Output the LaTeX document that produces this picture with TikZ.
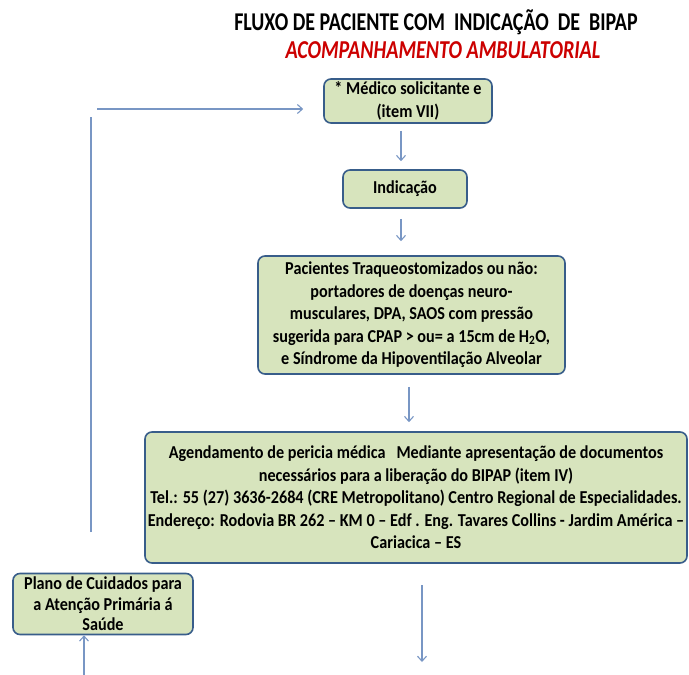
\documentclass[tikz,border=0pt]{standalone}
\usepackage{fontspec}
\setmainfont{Carlito}
\newfontfamily\corpo{Carlito}[FakeStretch=0.89,Ligatures=TeX]
\newfontfamily\titulo{Carlito}[FakeStretch=0.78,Ligatures=TeX]
\usepackage{tikz}
\usetikzlibrary{calc,arrows.meta}
\definecolor{boxfill}{RGB}{215,228,189}
\definecolor{boxline}{RGB}{56,93,138}
\definecolor{flowblue}{RGB}{120,150,196}
\definecolor{titlered}{RGB}{204,0,0}

\begin{document}
\begin{tikzpicture}[x=1pt,y=-1pt,
    etapa/.style={draw=boxline,line width=1.6pt,fill=boxfill,rounded corners=7pt,
      align=center,inner sep=2pt,font=\corpo\fontsize{18.2}{22.5}\selectfont\bfseries},
    fluxo/.style={-{Straight Barb[length=5pt,width=9pt]},draw=flowblue,line width=1.1pt}]
          \useasboundingbox (0,0) rectangle (689,675);
          % titulo
          \node[font=\titulo\fontsize{25.6}{28}\selectfont\bfseries] (tit) at (436,22)
            {FLUXO DE PACIENTE COM~ INDICAÇÃO~ DE~ BIPAP};
          \node[font=\titulo\fontsize{25.8}{28}\selectfont\bfseries\itshape,text=titlered] (sub) at (443,50)
            {ACOMPANHAMENTO AMBULATORIAL};
          % caixas
          \node[etapa,minimum width=168pt,minimum height=44pt] (med) at (408,101)
            {* Médico solicitante e\\(item VII)};
          \node[etapa,minimum width=124pt,minimum height=38pt] (ind) at (405,189) {Indicação};
          \node[etapa,minimum width=307pt,minimum height=118pt] (pac) at (411.5,315)
            {Pacientes Traqueostomizados ou não:\\portadores de doenças neuro-\\musculares, DPA, SAOS com pressão\\sugerida para CPAP > ou= a 15cm de H\textsubscript{2}O,\\e Síndrome da Hipoventilação Alveolar};
          \node[etapa,minimum width=542pt,minimum height=131pt] (age) at (416,497.5)
            {Agendamento de pericia médica~~ Mediante apresentação de documentos\\necessários para a liberação do BIPAP (item IV)\\Tel.: 55 (27) 3636-2684 (CRE Metropolitano) Centro Regional de Especialidades.\\Endereço: Rodovia BR 262 – KM 0 – Edf . Eng. Tavares Collins - Jardim América –\\Cariacica – ES};
          \node[etapa,minimum width=180pt,minimum height=61pt,font=\corpo\fontsize{18.2}{20.5}\selectfont\bfseries,
            text depth=0pt] (pla) at (103,604)
            {Plano de Cuidados para\\a Atenção Primária á\\Saúde};
          % pontas soltas
          \coordinate (vb) at (91,532);
          \coordinate (vt) at (91,117);
          \coordinate (hl) at (97,109);
          \coordinate (fim1) at (422,585);
          \coordinate (fim2) at (422,662);
          \coordinate (ini) at (84,675);
          % setas
          \draw[fluxo] (med.south -| 401,0) ++(0,7) -- ($(ind.north -| 401,0)+(0,-8)$);
          \draw[fluxo] (ind.south -| 401,0) ++(0,10) -- ($(pac.north -| 401,0)+(0,-14)$);
          \draw[fluxo] (pac.south -| 409,0) ++(0,12) -- ($(age.north -| 409,0)+(0,-9)$);
          \draw[fluxo] (fim1) -- (fim2);
          \draw[fluxo] (ini) -- (pla.south -| ini);
          \draw[draw=flowblue,line width=1.1pt] (vb) -- (vt);
          \draw[fluxo] (hl) -- ($(med.west |- hl)+(-20,0)$);
        \end{tikzpicture}
\end{document}
